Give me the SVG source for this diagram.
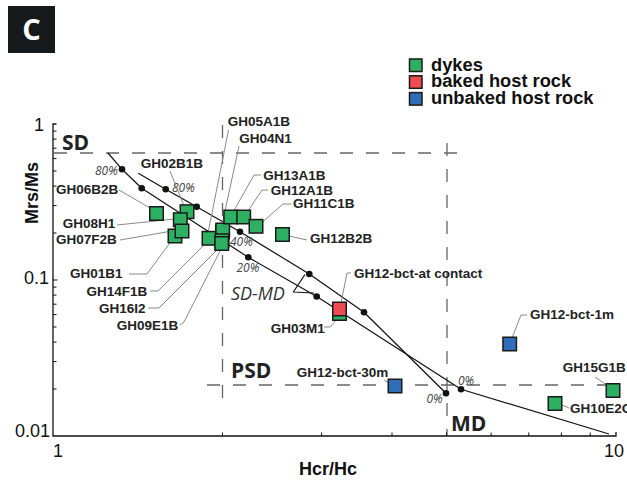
<svg xmlns="http://www.w3.org/2000/svg" width="627" height="482" viewBox="0 0 627 482">
  <style>
    .lbl { font-family: "Liberation Sans", Arial, sans-serif; font-weight: bold; font-size: 13.5px; fill: #222; }
    .leg { font-family: "Liberation Sans", Arial, sans-serif; font-weight: bold; font-size: 18.3px; fill: #111; }
    .tk { font-family: "Liberation Sans", Arial, sans-serif; font-size: 18px; fill: #111; }
    .ax { font-family: "Liberation Sans", Arial, sans-serif; font-weight: bold; font-size: 18px; fill: #111; }
    .reg { font-family: "Open Sans", "Liberation Sans", sans-serif; font-weight: bold; font-size: 21px; fill: #222; }
    .mix { font-family: "Open Sans", "Liberation Sans", sans-serif; font-style: italic; font-size: 18px; fill: #333; }
    .pct { font-family: "Open Sans", "Liberation Sans", sans-serif; font-style: italic; font-size: 12px; fill: #444; }
    .dash { fill: none; stroke: #666; stroke-width: 1.3; stroke-dasharray: 13 13; }
    .axis { fill: none; stroke: #111; stroke-width: 1.3; }
    .tick { fill: none; stroke: #111; stroke-width: 1; }
    .curve { fill: none; stroke: #111; stroke-width: 1.2; stroke-linejoin: round; }
    .lead { fill: none; stroke: #8a8a8a; stroke-width: 1; }
    .dot { fill: #111; }
    .g { fill: #2db062; stroke: #1a1a1a; stroke-width: 1.5; }
    .r { fill: #ee4b53; stroke: #1a1a1a; stroke-width: 1.5; }
    .b { fill: #2f6db8; stroke: #1a1a1a; stroke-width: 1.5; }
  </style>
  <defs>
    <rect id="sq" x="-6.75" y="-6.75" width="13.5" height="13.5"/>
  </defs>

  <rect width="627" height="482" fill="#fff"/>

  <!-- panel badge -->
  <g id="badge">
    <rect x="8" y="6" width="47" height="47" fill="#15191c"/>
    <text x="31.5" y="39.5" text-anchor="middle" font-family="Open Sans, Liberation Sans, sans-serif" font-weight="bold" font-size="29" fill="#fff">C</text>
  </g>

  <!-- legend -->
  <g id="legend">
    <rect class="g" x="409.5" y="59" width="12.5" height="12.5"/>
    <rect class="r" x="409.5" y="75.8" width="12.5" height="12.5"/>
    <rect class="b" x="409.5" y="92.6" width="12.5" height="12.5"/>
    <text class="leg" x="431" y="70.5">dykes</text>
    <text class="leg" x="431" y="87.3">baked host rock</text>
    <text class="leg" x="431" y="104.1">unbaked host rock</text>
  </g>

  <!-- domain boundaries -->
  <g id="boundaries">
    <path class="dash" d="M54,153 H462"/>
    <path class="dash" d="M222.5,125 V400"/>
    <path class="dash" d="M207,385 H615"/>
    <path class="dash" d="M447,143 V436"/>
    <text class="reg" x="62" y="150">SD</text>
    <text class="reg" x="231" y="378">PSD</text>
    <text class="reg" x="451" y="431">MD</text>
  </g>

  <!-- axes: x = 53 + 563*log10(Hcr/Hc), y = 124 - 156*log10(Mrs/Ms) -->
  <g id="axes">
    <path class="axis" d="M56.5,124 H53 V436 H616 V432"/>
    <path class="tick" d="M53,131.1h3.5M53,139.1h3.5M53,148.2h3.5M53,158.6h3.5M53,171h3.5M53,186.1h3.5M53,205.6h3.5M53,233h3.5M53,280h4.5M53,287.1h3.5M53,295.1h3.5M53,304.2h3.5M53,314.6h3.5M53,327h3.5M53,342.1h3.5M53,361.6h3.5M53,389h3.5"/>
    <path class="tick" d="M222.5,436v-3.5M321.6,436v-3.5M392,436v-3.5M446.5,436v-3.5M491.1,436v-3.5M528.8,436v-3.5M561.4,436v-3.5M590.2,436v-3.5"/>
    <text class="tk" x="44" y="131" text-anchor="end">1</text>
    <text class="tk" x="49" y="283.5" text-anchor="end">0.1</text>
    <text class="tk" x="50" y="437" text-anchor="end">0.01</text>
    <text class="tk" x="53" y="457">1</text>
    <text class="tk" x="614" y="457" text-anchor="middle">10</text>
    <text class="ax" x="328" y="475" text-anchor="middle">Hcr/Hc</text>
    <text class="ax" transform="translate(38,193) rotate(-90)" text-anchor="middle" font-size="19">Mrs/Ms</text>
  </g>

  <!-- SD-MD mixing curves -->
  <g id="connectors">
    <polyline class="curve" points="108,153 122,169.3 141.7,188.3 248.3,257.3 316.7,296.5 461,389.3 609,434"/>
    <polyline class="curve" points="138.3,173.3 165.7,189.3 196.7,206.7 240,231.7 309.3,274 364,312.3 446,393.3"/>
    <polyline class="curve" points="305,274.5 293.3,292 314,293"/>
    <g class="dot">
      <circle cx="122" cy="169.3" r="3.3"/>
      <circle cx="141.7" cy="188.3" r="3.3"/>
      <circle cx="248.3" cy="257.3" r="3.3"/>
      <circle cx="316.7" cy="296.5" r="3.3"/>
      <circle cx="461" cy="389.3" r="3.3"/>
      <circle cx="165.7" cy="189.3" r="3.3"/>
      <circle cx="196.7" cy="206.7" r="3.3"/>
      <circle cx="240" cy="231.7" r="3.3"/>
      <circle cx="309.3" cy="274" r="3.3"/>
      <circle cx="364" cy="312.3" r="3.3"/>
      <circle cx="446" cy="393.3" r="3.3"/>
    </g>
    <text class="pct" x="95" y="175">80%</text>
    <text class="pct" x="172" y="191.5">80%</text>
    <text class="pct" x="230" y="246">40%</text>
    <text class="pct" x="236.5" y="271.5">20%</text>
    <text class="pct" x="426.5" y="403">0%</text>
    <text class="pct" x="458" y="384.5">0%</text>
    <text class="mix" x="231" y="300">SD-MD</text>

    <!-- label leaders -->
    <polyline class="lead" points="119,190 150,208"/>
    <polyline class="lead" points="170,171 184,206"/>
    <polyline class="lead" points="117,225 175,219"/>
    <polyline class="lead" points="120,240 178,230"/>
    <polyline class="lead" points="129,274 147,274 172,240"/>
    <polyline class="lead" points="150,291 158,291 205,244"/>
    <polyline class="lead" points="148,308 159,308 218,249"/>
    <polyline class="lead" points="180,325 184,322 221,249"/>
    <polyline class="lead" points="228.5,130 208,233"/>
    <polyline class="lead" points="239,146 222,225"/>
    <polyline class="lead" points="261,175 254,175 232,214"/>
    <polyline class="lead" points="268,190 262,190 244,217"/>
    <polyline class="lead" points="291,204 283,204 258,226"/>
    <polyline class="lead" points="289,236 307,240"/>
    <polyline class="lead" points="351,273 347,273 340,308"/>
    <polyline class="lead" points="324,327 330,327 338,318"/>
    <polyline class="lead" points="384,380 394,386"/>
    <polyline class="lead" points="527,315 521,315 510,343"/>
    <polyline class="lead" points="595,377 608,386"/>
    <polyline class="lead" points="562,405 569,408"/>
  </g>

  <!-- samples -->
  <g id="GH06B2B"><use href="#sq" class="g" x="156.5" y="213.5"/><text class="lbl" x="56" y="194">GH06B2B</text></g>
  <g id="GH02B1B"><use href="#sq" class="g" x="187" y="211.7"/><text class="lbl" x="140.7" y="168.3">GH02B1B</text></g>
  <g id="GH08H1"><use href="#sq" class="g" x="180.3" y="219.7"/><text class="lbl" x="62.7" y="228">GH08H1</text></g>
  <g id="GH01B1"><use href="#sq" class="g" x="175" y="236"/><text class="lbl" x="70" y="278">GH01B1</text></g>
  <g id="GH07F2B"><use href="#sq" class="g" x="182" y="231"/><text class="lbl" x="56" y="244">GH07F2B</text></g>
  <g id="GH14F1B"><use href="#sq" class="g" x="209" y="238.3"/><text class="lbl" x="86.5" y="295.5">GH14F1B</text></g>
  <g id="GH05A1B"><use href="#sq" class="g" x="222.5" y="232"/><text class="lbl" x="227.7" y="126">GH05A1B</text></g>
  <g id="GH04N1"><use href="#sq" class="g" x="222.7" y="230"/><text class="lbl" x="239.3" y="142.5">GH04N1</text></g>
  <g id="GH16I2"><use href="#sq" class="g" x="222" y="240.7"/><text class="lbl" x="99" y="313">GH16I2</text></g>
  <g id="GH09E1B"><use href="#sq" class="g" x="221.7" y="243.5"/><text class="lbl" x="116.7" y="330">GH09E1B</text></g>
  <g id="GH13A1B"><use href="#sq" class="g" x="230.7" y="217"/><text class="lbl" x="263.3" y="180">GH13A1B</text></g>
  <g id="GH12A1B"><use href="#sq" class="g" x="243.7" y="217"/><text class="lbl" x="270.7" y="195">GH12A1B</text></g>
  <g id="GH11C1B"><use href="#sq" class="g" x="256" y="226.3"/><text class="lbl" x="293" y="208">GH11C1B</text></g>
  <g id="GH12B2B"><use href="#sq" class="g" x="282.5" y="234.5"/><text class="lbl" x="310" y="243.3">GH12B2B</text></g>
  <g id="GH03M1"><use href="#sq" class="g" x="339.5" y="313.5"/><text class="lbl" x="270.7" y="332.7">GH03M1</text></g>
  <g id="GH12-bct-at-contact"><use href="#sq" class="r" x="339.5" y="309"/><text class="lbl" x="354" y="277.5">GH12-bct-at contact</text></g>
  <g id="GH12-bct-30m"><use href="#sq" class="b" x="395" y="386"/><text class="lbl" x="296.7" y="376.5">GH12-bct-30m</text></g>
  <g id="GH12-bct-1m"><use href="#sq" class="b" x="509.7" y="344"/><text class="lbl" x="530" y="319.3">GH12-bct-1m</text></g>
  <g id="GH15G1B"><use href="#sq" class="g" x="613" y="390.5"/><text class="lbl" x="562.7" y="371.7">GH15G1B</text></g>
  <g id="GH10E2C"><use href="#sq" class="g" x="555" y="403.5"/><text class="lbl" x="570" y="413.3">GH10E2C</text></g>
</svg>
